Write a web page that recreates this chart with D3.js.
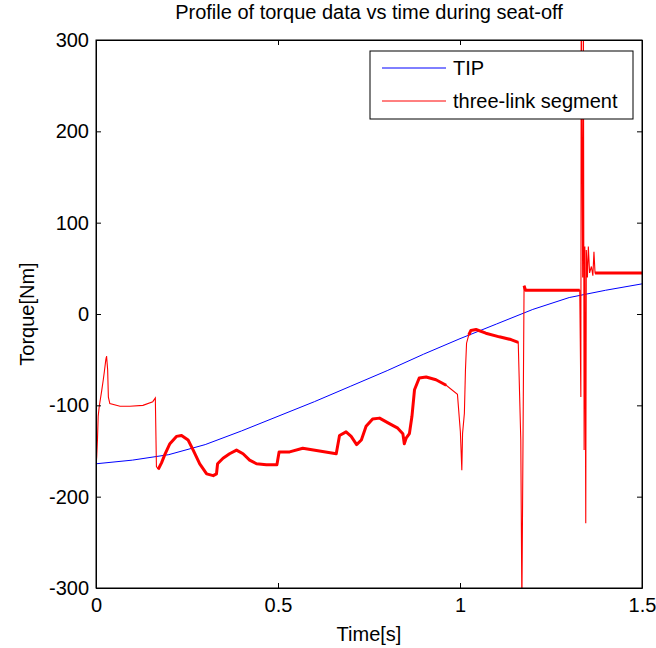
<!DOCTYPE html>
<html>
<head>
<meta charset="utf-8">
<script src="https://cdn.jsdelivr.net/npm/d3@7"></script>
<style>
    body { margin: 0; background: #fff; }
    svg { display: block; font-family: "Liberation Sans", Arial, sans-serif; }
    .axis path { stroke: #000; }
    .axis line { stroke: #000; }
    .axis text { font-size: 20px; fill: #000; font-family: "Liberation Sans", Arial, sans-serif; }
    .label-text { font-size: 20px; fill: #000; }
    .legend-text { font-size: 20px; fill: #000; }
</style>
</head>
<body>
<script>
// TIP model (smooth)
var tipTime = [0, 0.1, 0.2, 0.3, 0.4, 0.5, 0.6, 0.7, 0.8, 0.9, 1.0, 1.1, 1.2, 1.3, 1.4, 1.5];
var tipTorque = [-164, -160, -154, -143, -128, -112, -96, -79, -62, -44, -27, -11, 5, 18, 26, 33];

// three-link segment model
var segTime = [0, 0.002, 0.004, 0.006, 0.009, 0.016, 0.020, 0.023, 0.027, 0.029,
    0.032, 0.034, 0.038, 0.066, 0.093, 0.129, 0.156, 0.163, 0.166, 0.171,
    0.180, 0.189, 0.203, 0.221, 0.235, 0.253, 0.267, 0.285, 0.304, 0.322,
    0.331, 0.334, 0.349, 0.367, 0.386, 0.404, 0.422, 0.441, 0.468, 0.497,
    0.503, 0.532, 0.568, 0.614, 0.660, 0.669, 0.687, 0.701, 0.716, 0.729,
    0.742, 0.760, 0.779, 0.806, 0.829, 0.843, 0.847, 0.852, 0.861, 0.868,
    0.875, 0.888, 0.907, 0.934, 0.962, 0.993, 1.001, 1.005, 1.007, 1.012,
    1.015, 1.018, 1.024, 1.030, 1.044, 1.071, 1.108, 1.140, 1.160, 1.167,
    1.170, 1.176, 1.180, 1.250, 1.329, 1.332, 1.333, 1.337, 1.339, 1.341,
    1.343, 1.3455, 1.347, 1.350, 1.3526, 1.356, 1.361, 1.365, 1.368, 1.371,
    1.40, 1.45, 1.5];
var segTorque = [-167, -156, -138, -112, -101, -83, -72, -63, -50, -46,
    -61, -91, -98, -101, -101, -100, -96, -92, -167, -170,
    -163, -154, -142, -134, -133, -138, -149, -164, -175, -177,
    -175, -164, -158, -153, -149, -153, -160, -164, -165, -165,
    -151, -151, -147, -150, -153, -133, -129, -134, -143, -138,
    -123, -115, -114, -120, -125, -131, -142, -136, -131, -112,
    -83, -70, -69, -72, -78, -88, -129, -171, -131, -109,
    -61, -32, -23, -18, -17, -21, -25, -28, -31, -138,
    -320, 31, 26, 26, 26, -91, 340, 40, 340, -149,
    74, -229, 70, 40, 74, 45, 52, 42, 68, 45,
    45, 45, 45];

// time ranges where the segment trace is a dense noisy band
var noisyBands = [[0.17, 0.99], [1.02, 1.16], [1.176, 1.329], [1.371, 1.5]];

var xTicks = [0, 0.5, 1, 1.5];
var xTickLabels = ["0", "0.5", "1", "1.5"];
var yTicks = [-300, -200, -100, 0, 100, 200, 300];

var margin = {top: 40, right: 14, bottom: 60, left: 96};
var width = 656 - margin.left - margin.right;
var height = 648 - margin.top - margin.bottom;

var tip = tipTime.map(function(t, i) { return {t: t, v: tipTorque[i]}; });
var seg = segTime.map(function(t, i) { return {t: t, v: segTorque[i]}; });

var svg = d3.select("body").append("svg")
    .attr("width", 656)
    .attr("height", 648)
    .append("g")
    .attr("transform", "translate(" + margin.left + "," + margin.top + ")");

var xScale = d3.scaleLinear().domain([0, 1.5]).range([0, width]);
var yScale = d3.scaleLinear().domain([-300, 300]).range([height, 0]);

svg.append("clipPath")
    .attr("id", "clip")
    .append("rect")
    .attr("width", width)
    .attr("height", height);

var line = d3.line()
    .x(function(d) { return xScale(d.t); })
    .y(function(d) { return yScale(d.v); });

var plot = svg.append("g").attr("clip-path", "url(#clip)");

plot.append("path")
    .attr("d", line(tip))
    .attr("fill", "none")
    .attr("stroke", "#0000ff")
    .attr("stroke-width", 1);

plot.append("path")
    .attr("d", line(seg))
    .attr("fill", "none")
    .attr("stroke", "#ff0000")
    .attr("stroke-width", 1.1);

plot.selectAll(".band")
    .data(noisyBands)
    .enter()
    .append("path")
    .attr("class", "band")
    .attr("d", function(b) {
        return line(seg.filter(function(d) { return d.t >= b[0] && d.t <= b[1]; }));
    })
    .attr("fill", "none")
    .attr("stroke", "#ff0000")
    .attr("stroke-width", 3)
    .attr("stroke-linejoin", "round");

// axes with inward ticks on all four sides
svg.append("g")
    .attr("class", "axis")
    .attr("transform", "translate(0," + height + ")")
    .call(d3.axisBottom(xScale).tickValues(xTicks)
        .tickFormat(function(d, i) { return xTickLabels[i]; })
        .tickSizeInner(-5).tickSizeOuter(0).tickPadding(10));

svg.append("g")
    .attr("class", "axis")
    .call(d3.axisTop(xScale).tickValues(xTicks).tickFormat("")
        .tickSizeInner(-5).tickSizeOuter(0));

svg.append("g")
    .attr("class", "axis")
    .call(d3.axisLeft(yScale).tickValues(yTicks)
        .tickFormat(function(d) { return String(d); })
        .tickSizeInner(-5).tickSizeOuter(0).tickPadding(7));

svg.append("g")
    .attr("class", "axis")
    .attr("transform", "translate(" + width + ",0)")
    .call(d3.axisRight(yScale).tickValues(yTicks).tickFormat("")
        .tickSizeInner(-5).tickSizeOuter(0));

svg.append("rect")
    .attr("width", width)
    .attr("height", height)
    .attr("fill", "none")
    .attr("stroke", "#000")
    .attr("stroke-width", 1);

svg.append("text")
    .attr("class", "label-text")
    .attr("x", width / 2)
    .attr("y", -21)
    .attr("text-anchor", "middle")
    .text("Profile of torque data vs time during seat-off");

svg.append("text")
    .attr("class", "label-text")
    .attr("x", width / 2)
    .attr("y", height + 53)
    .attr("text-anchor", "middle")
    .text("Time[s]");

svg.append("text")
    .attr("class", "label-text")
    .attr("transform", "rotate(-90)")
    .attr("x", -height / 2)
    .attr("y", -62)
    .attr("text-anchor", "middle")
    .text("Torque[Nm]");

// legend
var legendItems = [
    {name: "TIP", color: "#0000ff"},
    {name: "three-link segment", color: "#ff0000"}
];
var legend = svg.append("g")
    .attr("transform", "translate(" + (370 - margin.left) + "," + (51 - margin.top) + ")");

legend.append("rect")
    .attr("width", 263)
    .attr("height", 68)
    .attr("fill", "#fff")
    .attr("stroke", "#000")
    .attr("stroke-width", 1);

legend.selectAll(".legend-line")
    .data(legendItems)
    .enter()
    .append("line")
    .attr("x1", 12)
    .attr("x2", 76)
    .attr("y1", function(d, i) { return 17 + i * 33; })
    .attr("y2", function(d, i) { return 17 + i * 33; })
    .attr("stroke", function(d) { return d.color; })
    .attr("stroke-width", 1);

legend.selectAll(".legend-text")
    .data(legendItems)
    .enter()
    .append("text")
    .attr("class", "legend-text")
    .attr("x", 83)
    .attr("y", function(d, i) { return 24 + i * 33; })
    .text(function(d) { return d.name; });
</script>
</body>
</html>
